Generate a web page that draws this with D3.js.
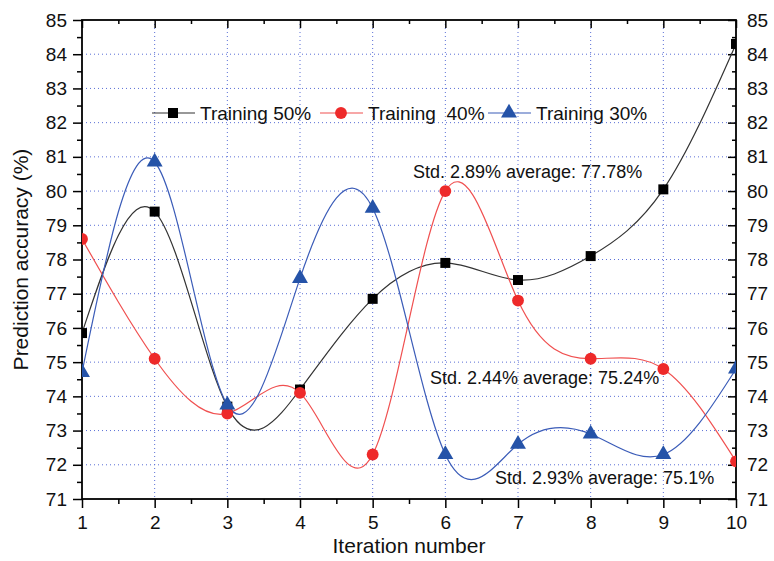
<!DOCTYPE html>
<html>
<head>
<meta charset="utf-8">
<script src="https://cdn.jsdelivr.net/npm/d3@7"></script>
<style>
  body { margin: 0; background: #fff; }
  text { font-family: "Liberation Sans", Arial, sans-serif; fill: #111; }
</style>
</head>
<body>
<svg id="chart" width="774" height="561"></svg>
<script>
// du lieu
const iterations = [1, 2, 3, 4, 5, 6, 7, 8, 9, 10];
const train50 = [75.85, 79.4, 73.7, 74.2, 76.85, 77.9, 77.4, 78.1, 80.05, 84.3];
const train40 = [78.6, 75.1, 73.5, 74.1, 72.3, 80.0, 76.8, 75.1, 74.8, 72.1];
const train30 = [74.7, 80.85, 73.75, 77.45, 79.5, 72.3, 72.6, 72.9, 72.3, 74.8];
const yTicks = d3.range(71, 86);
const seriesNames = ["Training 50%", "Training  40%", "Training 30%"];
const notes = ["Std. 2.89% average: 77.78%", "Std. 2.44% average: 75.24%", "Std. 2.93% average: 75.1%"];

const svg = d3.select("#chart"),
      margin = {top: 20, right: 38, bottom: 62, left: 82},
      width = +svg.attr("width") - margin.left - margin.right,
      height = +svg.attr("height") - margin.top - margin.bottom;

const g = svg.append("g").attr("transform", `translate(${margin.left},${margin.top})`);

const x = d3.scaleLinear().domain([1, 10]).range([0, width]);
const y = d3.scaleLinear().domain([71, 85]).range([height, 0]);

svg.append("defs").append("clipPath").attr("id", "clip")
  .append("rect").attr("width", width).attr("height", height);

// luoi cham
g.selectAll("line.gx").data(iterations.slice(1, -1)).enter().append("line")
  .attr("x1", d => x(d)).attr("x2", d => x(d)).attr("y1", 0).attr("y2", height)
  .attr("stroke", "#5a6fd6").attr("stroke-width", 1).attr("stroke-dasharray", "1,3");
g.selectAll("line.gy").data(yTicks.slice(1, -1)).enter().append("line")
  .attr("x1", 0).attr("x2", width).attr("y1", d => y(d)).attr("y2", d => y(d))
  .attr("stroke", "#5a6fd6").attr("stroke-width", 1).attr("stroke-dasharray", "1,3");

// truc
const xMinor = d3.range(1.5, 10, 1);
const yMinor = d3.range(71.5, 85, 1);
function styleAxis(sel) {
  sel.select(".domain").remove();
  sel.selectAll(".tick line").attr("stroke", "#000").attr("stroke-width", 1.5);
  sel.selectAll(".tick text").style("font-size", "19px").style("font-family", "Liberation Sans, Arial");
}
g.append("g").attr("transform", `translate(0,${height})`)
  .call(d3.axisBottom(x).tickValues(iterations).tickFormat(d3.format("d")).tickSize(9).tickPadding(8))
  .call(styleAxis);
g.append("g").attr("transform", `translate(0,${height})`)
  .call(d3.axisBottom(x).tickValues(xMinor).tickFormat("").tickSize(5)).call(styleAxis);
g.append("g")
  .call(d3.axisLeft(y).tickValues(yTicks).tickFormat(d3.format("d")).tickSize(9).tickPadding(6))
  .call(styleAxis);
g.append("g").call(d3.axisLeft(y).tickValues(yMinor).tickFormat("").tickSize(5)).call(styleAxis);
g.append("g").attr("transform", `translate(${width},0)`)
  .call(d3.axisRight(y).tickValues(yTicks).tickFormat(d3.format("d")).tickSize(-8).tickPadding(11))
  .call(styleAxis);
g.append("g").attr("transform", `translate(${width},0)`)
  .call(d3.axisRight(y).tickValues(yMinor).tickFormat("").tickSize(-4)).call(styleAxis);
g.append("g")
  .call(d3.axisTop(x).tickValues(iterations).tickFormat("").tickSize(-8)).call(styleAxis);
g.append("g")
  .call(d3.axisTop(x).tickValues(xMinor).tickFormat("").tickSize(-4)).call(styleAxis);

g.append("rect").attr("width", width).attr("height", height)
  .attr("fill", "none").attr("stroke", "#000").attr("stroke-width", 1.8);

// duong va diem
const series = [
  {name: seriesNames[0], values: train50, line: "#333", fill: "#000", shape: d3.symbolSquare, size: 100},
  {name: seriesNames[1], values: train40, line: "#f05050", fill: "#ee2a2a", shape: d3.symbolCircle, size: 110},
  {name: seriesNames[2], values: train30, line: "#3b5cb8", fill: "#2553a8", shape: d3.symbolTriangle, size: 110}
];
const line = d3.line().x((d, i) => x(iterations[i])).y(d => y(d)).curve(d3.curveNatural);
const plot = g.append("g").attr("clip-path", "url(#clip)");
series.forEach(s => {
  plot.append("path").datum(s.values).attr("d", line)
    .attr("fill", "none").attr("stroke", s.line).attr("stroke-width", 1.2);
});
series.forEach(s => {
  plot.selectAll(null).data(s.values).enter().append("path")
    .attr("transform", (d, i) => `translate(${x(iterations[i])},${y(d)})`)
    .attr("d", d3.symbol().type(s.shape).size(s.size))
    .attr("fill", s.fill);
});

// chu thich
const legendX = [152 - margin.left, 320 - margin.left, 488 - margin.left];
const legendY = 113 - margin.top;
series.forEach((s, i) => {
  const lg = g.append("g").attr("transform", `translate(${legendX[i]},${legendY})`);
  lg.append("line").attr("x1", 0).attr("x2", 43).attr("stroke", s.line).attr("stroke-width", 1.2);
  lg.append("path").attr("transform", "translate(21,0)")
    .attr("d", d3.symbol().type(s.shape).size(s.size)).attr("fill", s.fill);
  lg.append("text").attr("x", 48).attr("y", 7).style("font-size", "19px")
    .style("white-space", "pre").attr("xml:space", "preserve").text(s.name);
});

// ghi chu std
const notePos = [[413, 178], [430, 384], [495, 484]];
notes.forEach((t, i) => {
  svg.append("text").attr("x", notePos[i][0]).attr("y", notePos[i][1])
    .style("font-size", "18px").text(t);
});

// nhan truc
svg.append("text")
  .attr("transform", `translate(28,${margin.top + height / 2}) rotate(-90)`)
  .attr("text-anchor", "middle").style("font-size", "21px").text("Prediction accuracy (%)");
svg.append("text")
  .attr("x", margin.left + width / 2).attr("y", 553)
  .attr("text-anchor", "middle").style("font-size", "21px").text("Iteration number");
</script>
</body>
</html>
